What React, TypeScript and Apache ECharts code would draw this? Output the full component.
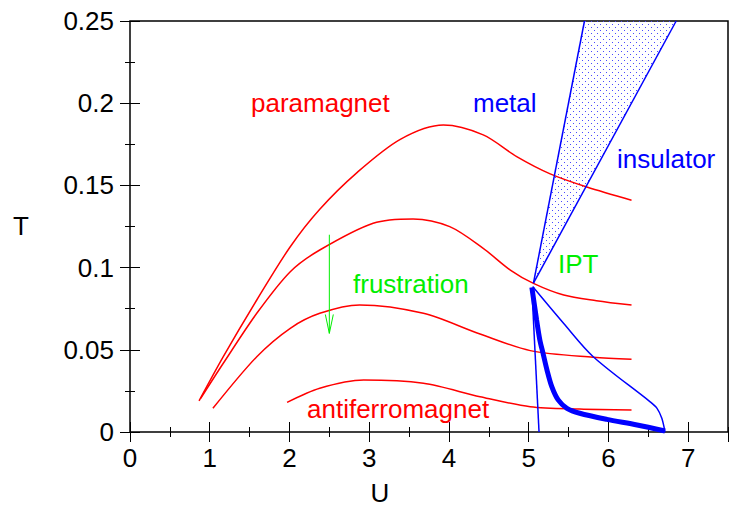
import React, { useEffect, useRef } from "react";
import * as echarts from "echarts";

// ---- data (U, T) ----
const curveA = [[0.866, 0.0189], [1.17, 0.0458], [1.59, 0.0803], [2.01, 0.1127], [2.38, 0.1355], [2.84, 0.1575], [3.39, 0.178], [3.93, 0.1867], [4.43, 0.1807], [4.85, 0.1675], [5.27, 0.157], [5.73, 0.149], [6.29, 0.141]];
const curveB = [[0.887, 0.0205], [1.17, 0.0418], [1.59, 0.0722], [2.01, 0.0975], [2.38, 0.1107], [3.05, 0.127], [3.55, 0.1296], [4.01, 0.1249], [4.43, 0.1117], [4.77, 0.0985], [5.06, 0.0904], [5.44, 0.0833], [5.85, 0.0799], [6.29, 0.0772]];
const curveC = [[1.04, 0.0144], [1.59, 0.0458], [2.01, 0.0631], [2.38, 0.0722], [2.88, 0.0773], [3.68, 0.0722], [4.39, 0.0596], [5.02, 0.0495], [5.81, 0.0454], [6.29, 0.0442]];
const curveD = [[1.97, 0.018], [2.38, 0.0266], [2.93, 0.0316], [3.68, 0.0296], [4.39, 0.0215], [5.02, 0.0154], [5.64, 0.014], [6.29, 0.0134]];

const boundaryLeft = [[5.06, 0.0905], [5.7, 0.25]];
const boundaryRight = [[5.06, 0.0905], [6.85, 0.25]];
const shadeRegion = [[5.06, 0.0905], [5.7, 0.25], [6.85, 0.25]];
const nearVertical = [[5.04, 0.0875], [5.13, 0]];
const thickSpinodal = [[5.04, 0.088], [5.1, 0.068], [5.14, 0.056], [5.18, 0.0479], [5.23, 0.0377], [5.29, 0.0276], [5.37, 0.0195], [5.48, 0.0144], [5.64, 0.0114], [5.98, 0.0077], [6.36, 0.0043], [6.71, 0.0006]];
const thinSpinodal = [[5.05, 0.0885], [5.44, 0.066], [5.81, 0.0458], [6.52, 0.0185], [6.61, 0.0144], [6.67, 0.0083], [6.71, 0]];

const arrowShaft = [[2.5, 0.12], [2.5, 0.06]];
const arrowHead = [[2.45, 0.0715], [2.5, 0.06], [2.55, 0.0715]];

const xMin = 0, xMax = 7.5, xMajor = 1, xMinor = 0.5;
const yMin = 0, yMax = 0.25, yMajor = 0.05, yMinor = 0.025;

const labels = [
  { text: "paramagnet", color: "#ff0000" },
  { text: "metal", color: "#0000ff" },
  { text: "insulator", color: "#0000ff" },
  { text: "IPT", color: "#00ee00" },
  { text: "frustration", color: "#00ee00" },
  { text: "antiferromagnet", color: "#ff0000" },
];

const FONT = '"Liberation Sans", Arial, Helvetica, sans-serif';

export default function App() {
  const ref = useRef<HTMLDivElement>(null);
  useEffect(() => {
    if (!ref.current) return;
    const chart = echarts.init(ref.current, undefined, { renderer: "svg" });

    // dot pattern for shaded region
    const cv = document.createElement("canvas");
    cv.width = 6;
    cv.height = 6;
    const ctx = cv.getContext("2d")!;
    ctx.fillStyle = "#4a4aff";
    ctx.fillRect(0, 0, 1, 1);
    ctx.fillRect(3, 3, 1, 1);

    const mkX = (pos: string, interval: number, len: number, showLabel: boolean) => ({
      type: "value",
      position: pos,
      min: xMin,
      max: xMax,
      interval,
      axisLine: { show: false },
      splitLine: { show: false },
      axisTick: { show: true, inside: true, length: len, lineStyle: { color: "#000", width: 1 } },
      axisLabel: {
        show: showLabel,
        showMaxLabel: false,
        margin: 13,
        fontSize: 26,
        fontFamily: FONT,
        color: "#000",
      },
    });
    const mkY = (pos: string, interval: number, len: number, showLabel: boolean) => ({
      type: "value",
      position: pos,
      min: yMin,
      max: yMax,
      interval,
      axisLine: { show: false },
      splitLine: { show: false },
      axisTick: { show: true, inside: true, length: len, lineStyle: { color: "#000", width: 1 } },
      axisLabel: {
        show: showLabel,
        margin: 16,
        fontSize: 26,
        fontFamily: FONT,
        color: "#000",
      },
    });

    const redLine = (data: number[][]) => ({
      type: "line",
      data,
      smooth: 0.3,
      symbol: "none",
      lineStyle: { color: "#ff0000", width: 1.5 },
      z: 3,
    });
    const plain = (data: number[][], color: string, width: number, smooth: number | boolean = false) => ({
      type: "line",
      data,
      smooth,
      symbol: "none",
      lineStyle: { color, width },
      z: 4,
    });

    const labelPos = [
      [251, 103],
      [473, 103],
      [617, 159],
      [558, 264],
      [353, 284],
      [307, 409],
    ];

    const graphic: any[] = labels.map((l, i) => ({
      type: "text",
      x: labelPos[i][0],
      y: labelPos[i][1],
      style: { text: l.text, fill: l.color, fontSize: 26, fontFamily: FONT, align: "left", verticalAlign: "middle" },
      z: 10,
    }));
    graphic.push({
      type: "text",
      x: 13,
      y: 226,
      style: { text: "T", fill: "#000", fontSize: 26, fontFamily: FONT, align: "left", verticalAlign: "middle" },
    });
    graphic.push({
      type: "text",
      x: 380,
      y: 493,
      style: { text: "U", fill: "#000", fontSize: 26, fontFamily: FONT, align: "center", verticalAlign: "middle" },
    });

    chart.setOption({
      animation: false,
      backgroundColor: "#fff",
      grid: { left: 130, top: 21, right: 11, bottom: 76, show: true, borderColor: "#000", borderWidth: 1.5, backgroundColor: "transparent" },
      xAxis: [
        mkX("bottom", xMajor, 10, true),
        mkX("bottom", xMinor, 5, false),
        mkX("top", xMajor, 10, false),
        mkX("top", xMinor, 5, false),
      ],
      yAxis: [
        mkY("left", yMajor, 10, true),
        mkY("left", yMinor, 5, false),
        mkY("right", yMajor, 10, false),
        mkY("right", yMinor, 5, false),
      ],
      graphic,
      series: [
        {
          type: "custom",
          renderItem: (params: any, api: any) => {
            const pts = shadeRegion.map((p) => api.coord(p));
            return {
              type: "polygon",
              shape: { points: pts },
              style: { fill: { image: cv, repeat: "repeat" }, stroke: "none" },
            };
          },
          data: [0],
          z: 1,
          silent: true,
        },
        redLine(curveA),
        redLine(curveB),
        redLine(curveC),
        redLine(curveD),
        plain(boundaryLeft, "#0000ff", 1.5),
        plain(boundaryRight, "#0000ff", 1.5),
        plain(nearVertical, "#0000ff", 1.5),
        plain(thinSpinodal, "#0000ff", 1.5, 0.3),
        plain(thickSpinodal, "#0000ff", 5, 0.3),
        plain(arrowShaft, "#00ee00", 1),
        plain(arrowHead, "#00ee00", 1),
      ],
    });
    return () => chart.dispose();
  }, []);
  return <div ref={ref} style={{ position: "absolute", left: 0, top: 0, width: 739, height: 508 }} />;
}
